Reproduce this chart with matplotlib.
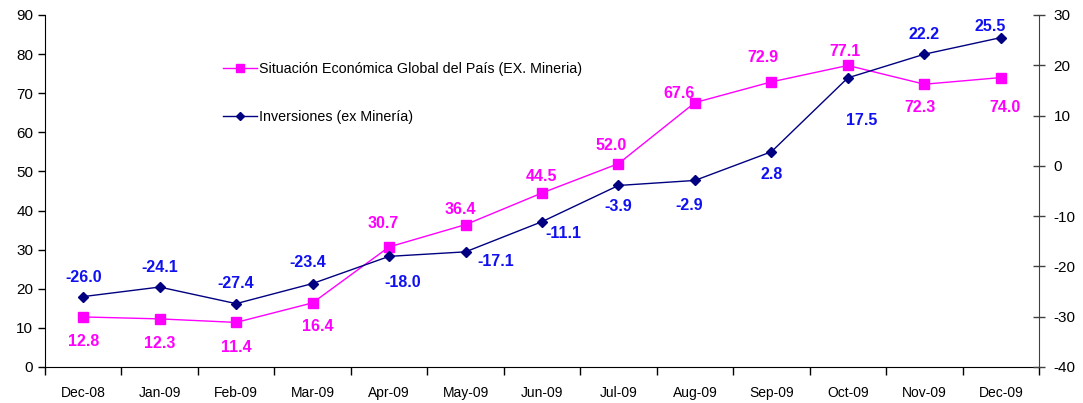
import matplotlib
matplotlib.use("Agg")
import matplotlib.pyplot as plt
from matplotlib.ticker import FixedLocator, NullFormatter

plt.rcParams['font.family'] = ['Liberation Sans', 'DejaVu Sans']
plt.rcParams['axes.unicode_minus'] = False

months = ["Dec-08", "Jan-09", "Feb-09", "Mar-09", "Apr-09", "May-09", "Jun-09",
          "Jul-09", "Aug-09", "Sep-09", "Oct-09", "Nov-09", "Dec-09"]
situacion = [12.8, 12.3, 11.4, 16.4, 30.7, 36.4, 44.5, 52.0, 67.6, 72.9, 77.1, 72.3, 74.0]
inversiones = [-26.0, -24.1, -27.4, -23.4, -18.0, -17.1, -11.1, -3.9, -2.9, 2.8, 17.5, 22.2, 25.5]

lab_situacion = "Situación Económica Global del País (EX. Mineria)"
lab_inversiones = "Inversiones (ex Minería)"

# label offsets in pixels (dx, dy with dy>0 meaning up)
off_sit = [(0, -25), (0, -25), (0, -25), (5, -24), (-6, 23), (-5, 15), (0, 16),
           (-7, 18), (-16, 9), (-8, 24), (-3, 14), (-4, -23), (4, -30)]
off_inv = [(0, 19), (0, 20), (0, 20), (-5, 21), (14, -26), (30, -10), (21, -12),
           (0, -21), (-6, -25), (0, -23), (14, -43), (0, 20), (-11, 11)]

MAG = "#FF00FF"
NAVY = "#000080"
BLUE = "#1010F0"

W, H = 1083, 403
fig = plt.figure(figsize=(W / 100, H / 100), dpi=100)
ax = fig.add_axes([45 / W, 1 - 367 / H, (1039 - 45) / W, (367 - 15) / H])
ax2 = ax.twinx()

x = list(range(len(months)))
l1, = ax.plot(x, situacion, color=MAG, lw=1.0, marker="s", ms=7.5, mfc=MAG, mec=MAG,
              label=lab_situacion, zorder=3)
l2, = ax2.plot(x, inversiones, color=NAVY, lw=1.0, marker="D", ms=5, mfc=NAVY, mec=NAVY,
               label=lab_inversiones, zorder=3)

px = 0.72
for xi, v, (dx, dy) in zip(x, situacion, off_sit):
    ax.annotate(f"{v:.1f}", (xi, v), xytext=(dx * px, dy * px), textcoords="offset points",
                ha="center", va="center", color=MAG, fontsize=11.5, fontweight="bold")
for xi, v, (dx, dy) in zip(x, inversiones, off_inv):
    ax2.annotate(f"{v:.1f}", (xi, v), xytext=(dx * px, dy * px), textcoords="offset points",
                 ha="center", va="center", color=BLUE, fontsize=11.5, fontweight="bold")

ax.set_xlim(-0.5, len(months) - 0.5)
ax.set_ylim(0, 90)
ax.set_yticks(range(0, 91, 10))
ax2.set_ylim(-40, 30)
ax2.set_yticks(range(-40, 31, 10))

ax.xaxis.set_major_locator(FixedLocator([i - 0.5 for i in range(len(months) + 1)]))
ax.xaxis.set_major_formatter(NullFormatter())
ax.xaxis.set_minor_locator(FixedLocator(x))
ax.set_xticklabels(months, minor=True)
ax.tick_params(axis="x", which="major", direction="out", length=6, width=1)
ax.tick_params(axis="x", which="minor", length=0, pad=14, labelsize=10)
ax.tick_params(axis="y", direction="out", length=5, width=1, labelsize=11)
ax2.tick_params(axis="y", direction="inout", length=9, width=1, labelsize=11,
                color="#404040", pad=6)

for a in (ax, ax2):
    a.spines["top"].set_visible(False)
ax2.spines["left"].set_visible(False)
ax2.spines["bottom"].set_visible(False)
ax.spines["right"].set_visible(False)
ax2.spines["right"].set_color("#404040")

ax2.legend(handles=[l1, l2], loc="upper left", bbox_to_anchor=(216 / W, 1 - 55 / H),
           bbox_transform=fig.transFigure, frameon=False, fontsize=10.3,
           labelspacing=2.4, handlelength=2.4, handletextpad=0.1, borderpad=0,
           markerscale=0.8)

fig.savefig("out.png", dpi=100)
